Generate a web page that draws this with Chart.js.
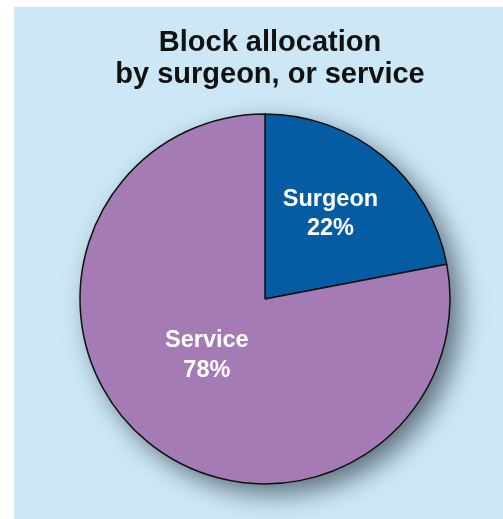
<!DOCTYPE html>
<html>
<head>
<meta charset="utf-8">
<script src="https://cdn.jsdelivr.net/npm/chart.js@4/dist/chart.umd.min.js"></script>
<style>
  html, body { margin: 0; padding: 0; background: #ffffff; }
  #wrap { width: 503px; height: 519px; }
</style>
</head>
<body>
<div id="wrap"><canvas id="c" width="503" height="519"></canvas></div>
<script>
const titleLines = ["Block allocation", "by surgeon, or service"];
const categories = ["Surgeon", "Service"];
const shares = [22, 78];
const sliceColors = ["#065ca2", "#a57bb6"];

const FONT = "'Liberation Sans', Arial, Helvetica, sans-serif";

const panelPlugin = {
  id: 'panel',
  beforeDraw(chart) {
    const ctx = chart.ctx;
    ctx.save();
    ctx.fillStyle = '#ffffff';
    ctx.fillRect(0, 0, chart.width, chart.height);
    ctx.fillStyle = '#cce8f6';
    ctx.fillRect(14, 7, chart.width - 14, chart.height - 7);
    ctx.restore();
    // shift title slightly right
    ctx.save();
    ctx.translate(5, 0);
  },
  beforeDatasetsDraw(chart) {
    const ctx = chart.ctx;
    ctx.restore();
    const arc = chart.getDatasetMeta(0).data[0];
    if (!arc) return;
    const {x, y, outerRadius} = arc.getProps(['x', 'y', 'outerRadius'], true);
    ctx.save();
    ctx.shadowColor = 'rgba(20,30,40,0.6)';
    ctx.shadowBlur = 26;
    ctx.shadowOffsetX = 10;
    ctx.shadowOffsetY = 10;
    ctx.beginPath();
    ctx.arc(x, y, outerRadius, 0, Math.PI * 2);
    ctx.fillStyle = sliceColors[1];
    ctx.fill();
    ctx.restore();
  }
};

const labelPlugin = {
  id: 'sliceLabels',
  afterDatasetsDraw(chart, args, opts) {
    const ctx = chart.ctx;
    const meta = chart.getDatasetMeta(0);
    ctx.save();
    ctx.fillStyle = '#ffffff';
    ctx.textAlign = 'center';
    ctx.textBaseline = 'middle';
    meta.data.forEach((arc, i) => {
      const p = arc.getProps(['x', 'y', 'startAngle', 'endAngle', 'outerRadius'], true);
      const mid = (p.startAngle + p.endAngle) / 2 + opts.angleShift[i] * Math.PI / 180;
      const r = p.outerRadius * opts.radial[i];
      const cx = p.x + Math.cos(mid) * r;
      const cy = p.y + Math.sin(mid) * r;
      ctx.font = 'bold ' + opts.size[i] + 'px ' + FONT;
      const lines = [categories[i], shares[i] + '%'];
      const lh = opts.lineHeight[i];
      lines.forEach((t, k) => {
        ctx.fillText(t, cx, cy + (k - (lines.length - 1) / 2) * lh);
      });
    });
    ctx.restore();
  }
};

new Chart(document.getElementById('c'), {
  type: 'pie',
  data: {
    labels: categories,
    datasets: [{
      data: shares,
      backgroundColor: sliceColors,
      borderColor: '#111111',
      borderWidth: 1.5,
      radius: 185
    }]
  },
  options: {
    responsive: false,
    animation: false,
    devicePixelRatio: 1,
    layout: { padding: { top: 27, left: 80, right: 53, bottom: 35 } },
    plugins: {
      legend: { display: false },
      tooltip: { enabled: false },
      title: {
        display: true,
        text: titleLines,
        color: '#111111',
        font: { family: FONT, size: 29, weight: 'bold', lineHeight: 1.1 },
        padding: { top: 0, bottom: 23 }
      },
      sliceLabels: {
        radial: [0.58, 0.44],
        angleShift: [-2, 6],
        size: [23.5, 23.5],
        lineHeight: [29, 30]
      }
    }
  },
  plugins: [panelPlugin, labelPlugin]
});
</script>
</body>
</html>
